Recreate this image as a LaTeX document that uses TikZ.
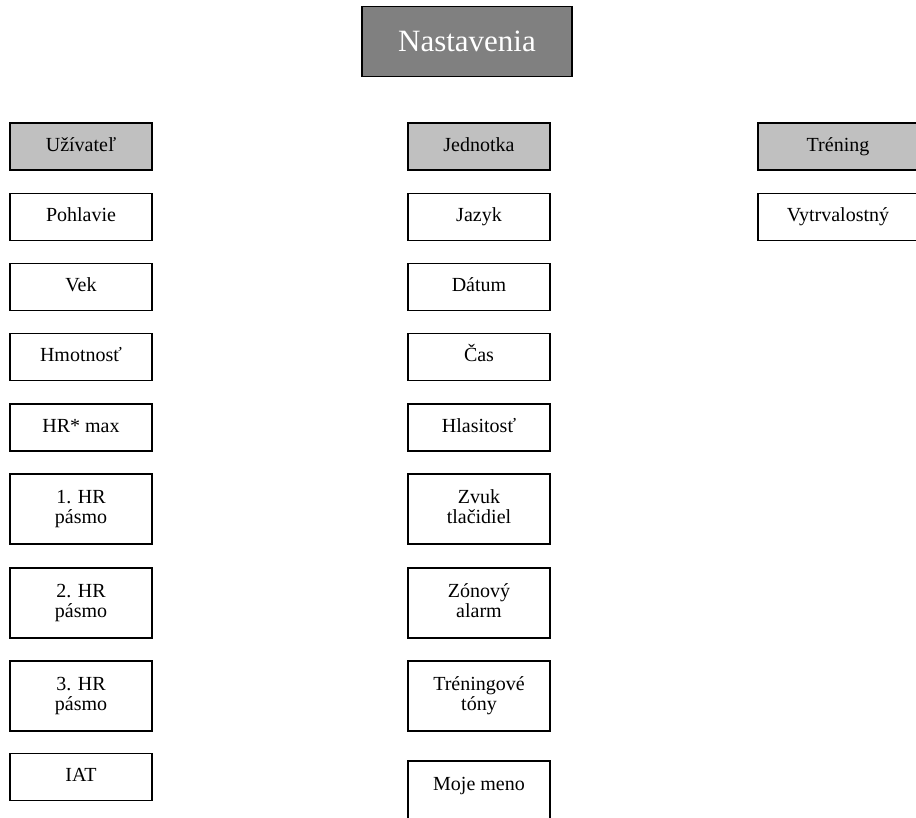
\documentclass[tikz,border=0pt]{standalone}
\usepackage{fontspec}
\setmainfont{Liberation Serif}
\definecolor{headgray}{RGB}{192,192,192}
\definecolor{rootgray}{RGB}{128,128,128}
\begin{document}
\begin{tikzpicture}[x=1pt,y=-1pt,
    item/.style={draw,line width=1.1pt,fill=white,minimum width=142pt,minimum height=47pt,
      inner sep=0pt,outer sep=0pt,align=center,text height=14pt,text depth=4.5pt,
      font=\fontsize{20}{20.3}\selectfont},
    tallitem/.style={item,minimum height=70pt,text height=34.3pt},
    headitem/.style={item,fill=headgray},
    rootitem/.style={draw,line width=1.1pt,fill=rootgray,text=white,minimum width=210pt,
      minimum height=70pt,inner sep=0pt,font=\fontsize{31}{34}\selectfont}]
  \useasboundingbox (0,0) rectangle (916,818);
  \node (nast) at (467,41.7) [rootitem] {Nastavenia};
  % Uzivatel
  \node (uziv) at (81,146.5) [headitem] {Užívateľ};
  \node (pohl) at (81,217) [item] {Pohlavie};
  \node (vek) at (81,287) [item] {Vek};
  \node (hmot) at (81,357) [item] {Hmotnosť};
  \node (hrmax) at (81,427.5) [item] {HR* max};
  \node (hrone) at (81,509) [tallitem] {1. HR\\pásmo};
  \node (hrtwo) at (81,603) [tallitem] {2. HR\\pásmo};
  \node (hrthree) at (81,696) [tallitem] {3. HR\\pásmo};
  \node (iat) at (81,777) [item] {IAT};
  % Jednotka
  \node (jedn) at (479,146.5) [headitem] {Jednotka};
  \node (jazyk) at (479,217) [item] {Jazyk};
  \node (datum) at (479,287) [item] {Dátum};
  \node (cas) at (479,357) [item] {Čas};
  \node (hlas) at (479,427.5) [item] {Hlasitosť};
  \node (zvuk) at (479,509) [tallitem] {Zvuk\\tlačidiel};
  \node (zona) at (479,603) [tallitem] {Zónový\\alarm};
  \node (tony) at (479,696) [tallitem] {Tréningové\\tóny};
  \node (meno) at (479,796) [item,minimum height=70pt,text depth=24.8pt] {Moje meno};
  % Trening
  \node (tren) at (838,146.5) [headitem,minimum width=160pt] {Tréning};
  \node (vytr) at (838,217) [item,minimum width=160pt] {Vytrvalostný};
\end{tikzpicture}
\end{document}
